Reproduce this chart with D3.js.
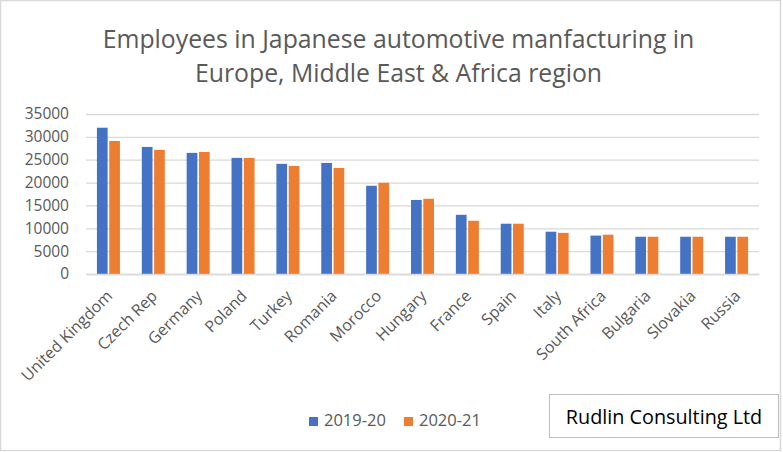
<!DOCTYPE html>
<html>
<head>
<meta charset="utf-8">
<script src="https://cdn.jsdelivr.net/npm/d3@7"></script>
<style>
  body { margin: 0; background: #fff; }
  text { font-family: "Open Sans", "Noto Sans", sans-serif; }
</style>
</head>
<body>
<div id="wrapper"></div>
<script>
// data
const countries = ["United Kingdom", "Czech Rep", "Germany", "Poland", "Turkey", "Romania",
  "Morocco", "Hungary", "France", "Spain", "Italy", "South Africa", "Bulgaria", "Slovakia", "Russia"]
const seriesNames = ["2019-20", "2020-21"]
const values1920 = [32000, 27800, 26500, 25400, 24100, 24300, 19300, 16200, 12950, 11000, 9250, 8400, 8150, 8150, 8150]
const values2021 = [29100, 27150, 26700, 25400, 23650, 23200, 19950, 16450, 11650, 11000, 9000, 8600, 8150, 8150, 8150]
const yTicks = [0, 5000, 10000, 15000, 20000, 25000, 30000, 35000]
const titleLines = ["Employees in Japanese automotive manfacturing in", "Europe, Middle East & Africa region"]
const credit = "Rudlin Consulting Ltd"

const colors = ["#4472c4", "#ed7d31"]
const textGray = "#595959"

function drawChart() {
  let dimensions = {
    width: 783,
    height: 452,
    margin: { top: 114, right: 24, bottom: 178, left: 86 },
  }
  dimensions.boundedWidth = dimensions.width - dimensions.margin.left - dimensions.margin.right
  dimensions.boundedHeight = dimensions.height - dimensions.margin.top - dimensions.margin.bottom

  const wrapper = d3.select("#wrapper")
    .append("svg")
      .attr("width", dimensions.width)
      .attr("height", dimensions.height)

  // outer chart border
  wrapper.append("rect")
    .attr("x", 0.5).attr("y", 0.5)
    .attr("width", dimensions.width - 3).attr("height", dimensions.height - 2)
    .attr("fill", "#fff")
    .attr("stroke", "#d9d9d9")
    .attr("stroke-width", 1.5)

  const bounds = wrapper.append("g")
    .attr("transform", `translate(${dimensions.margin.left}, ${dimensions.margin.top})`)

  // scales
  const yScale = d3.scaleLinear()
    .domain([0, 35000])
    .range([dimensions.boundedHeight, 0])

  const xScale = d3.scaleBand()
    .domain(countries)
    .range([0, dimensions.boundedWidth])

  const innerScale = d3.scaleBand()
    .domain(seriesNames)
    .range([xScale.bandwidth() / 2 - 11.5, xScale.bandwidth() / 2 + 11.5])
    .paddingInner(0.13)

  // gridlines
  const yAxisGenerator = d3.axisLeft(yScale)
    .tickValues(yTicks)
    .tickSize(-dimensions.boundedWidth)
    .tickPadding(17)
    .tickFormat(d3.format("d"))

  const yAxis = bounds.append("g").call(yAxisGenerator)
  yAxis.select(".domain").remove()
  yAxis.selectAll(".tick line")
    .attr("stroke", "#d9d9d9")
    .attr("stroke-width", 1.3)
  yAxis.selectAll(".tick text")
    .attr("fill", textGray)
    .style("font-size", "15.5px")

  // bars
  const series = [values1920, values2021]
  series.forEach((vals, si) => {
    bounds.append("g")
      .selectAll("rect")
      .data(vals)
      .join("rect")
        .attr("x", (d, i) => xScale(countries[i]) + innerScale(seriesNames[si]))
        .attr("width", innerScale.bandwidth())
        .attr("y", d => yScale(d))
        .attr("height", d => yScale(0) - yScale(d))
        .attr("fill", colors[si])
  })

  // x axis
  const xAxisGenerator = d3.axisBottom(xScale).tickSize(0).tickPadding(0)
  const xAxis = bounds.append("g")
    .attr("transform", `translate(0, ${dimensions.boundedHeight})`)
    .call(xAxisGenerator)
  xAxis.select(".domain")
    .attr("stroke", "#d9d9d9")
    .attr("stroke-width", 1.5)
  xAxis.selectAll(".tick text")
    .attr("fill", textGray)
    .style("font-size", "16px")
    .attr("text-anchor", "end")
    .attr("dy", "0.35em")
    .attr("transform", "translate(1, 19) rotate(-45)")

  // title
  const title = wrapper.append("text")
    .attr("x", dimensions.width / 2 + 7)
    .attr("y", 48)
    .attr("text-anchor", "middle")
    .attr("fill", textGray)
    .style("font-size", "24.8px")
  title.selectAll("tspan")
    .data(titleLines)
    .join("tspan")
      .attr("x", dimensions.width / 2 + 7)
      .attr("dy", (d, i) => i === 0 ? 0 : 34)
      .text(d => d)

  // legend
  const legendX = [309, 404]
  const legend = wrapper.append("g")
  seriesNames.forEach((name, i) => {
    legend.append("rect")
      .attr("x", legendX[i]).attr("y", 417)
      .attr("width", 9).attr("height", 9)
      .attr("fill", colors[i])
    legend.append("text")
      .attr("x", legendX[i] + 15).attr("y", 426)
      .attr("fill", textGray)
      .style("font-size", "16.5px")
      .text(name)
  })

  // credit box
  wrapper.append("rect")
    .attr("x", 549.5).attr("y", 394.5)
    .attr("width", 229).attr("height", 43)
    .attr("fill", "#fff")
    .attr("stroke", "#bfbfbf")
    .attr("stroke-width", 1)
  wrapper.append("text")
    .attr("x", 664).attr("y", 424)
    .attr("text-anchor", "middle")
    .attr("fill", "#000")
    .style("font-size", "19.8px")
    .text(credit)
}

drawChart()
</script>
</body>
</html>
